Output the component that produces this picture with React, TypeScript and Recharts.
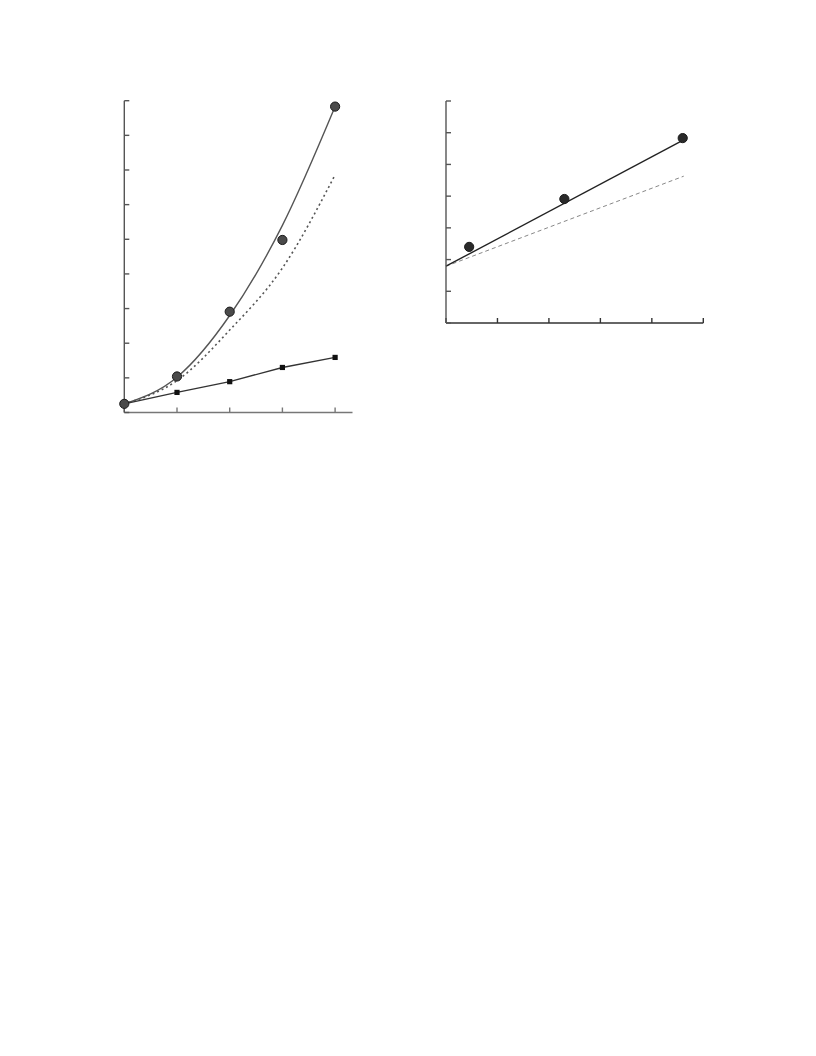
import React from 'react';
import { ComposedChart, Line, Scatter, XAxis, YAxis } from 'recharts';

// left panel
const leftX = [0, 1, 2, 3, 4];
const leftMeasured = [0.25, 1.04, 2.91, 4.98, 8.83];
const leftFit = [0.25, 1.02, 2.8, 5.4, 8.83];
const leftDotted = [0.25, 0.92, 2.38, 4.17, 6.86];
const leftSquares = [0.25, 0.58, 0.89, 1.3, 1.59];
const leftXTicks = [0, 1, 2, 3, 4];
const leftYTicks = [0, 1, 2, 3, 4, 5, 6, 7, 8, 9];

// right panel
const rightPointX = [0.45, 2.3, 4.6];
const rightPointY = [2.4, 3.91, 5.83];
const rightFitX = [0, 4.6];
const rightFitY = [1.79, 5.76];
const rightDashX = [0, 4.62];
const rightDashY = [1.79, 4.63];
const rightXTicks = [0, 1, 2, 3, 4, 5];
const rightYTicks = [0, 1, 2, 3, 4, 5, 6, 7];

const leftData = leftX.map((x, i) => ({
  x,
  measured: leftMeasured[i],
  fit: leftFit[i],
  dotted: leftDotted[i],
  squares: leftSquares[i],
}));

const rightPoints = rightPointX.map((x, i) => ({ x, y: rightPointY[i] }));
const rightFit = rightFitX.map((x, i) => ({ x, y: rightFitY[i] }));
const rightDash = rightDashX.map((x, i) => ({ x, y: rightDashY[i] }));

const SquareDot = (props: any) => {
  const { cx, cy } = props;
  if (cx == null || cy == null) return <g />;
  return <rect x={cx - 2.6} y={cy - 2.6} width={5.2} height={5.2} fill="#111" />;
};

const BallDot = (fill: string) => (props: any) => {
  const { cx, cy } = props;
  if (cx == null || cy == null) return <g />;
  return <circle cx={cx} cy={cy} r={4.6} fill={fill} stroke="#1a1a1a" strokeWidth={1} />;
};

const noTick = () => <g />;

export default function App() {
  return (
    <div style={{ position: 'absolute', left: 0, top: 0, width: 816, height: 1056, background: '#fff' }}>
      <div style={{ position: 'absolute', left: 100, top: 90 }}>
        <ComposedChart
          width={270}
          height={340}
          data={leftData}
          margin={{ top: 10.7, right: 17.5, left: 24.3, bottom: 17.5 }}
        >
          <XAxis
            dataKey="x"
            type="number"
            domain={[0, 4.33]}
            ticks={leftXTicks}
            mirror
            tick={noTick}
            tickSize={5}
            stroke="#777"
            strokeWidth={1.4}
          />
          <YAxis
            type="number"
            domain={[0, 9]}
            ticks={leftYTicks}
            mirror
            tick={noTick}
            tickSize={5}
            stroke="#555"
            strokeWidth={1.4}
          />
          <Line
            dataKey="dotted"
            type="monotone"
            stroke="#555"
            strokeWidth={1.6}
            strokeDasharray="2 3"
            dot={false}
            isAnimationActive={false}
          />
          <Line
            dataKey="fit"
            type="monotone"
            stroke="#555"
            strokeWidth={1.4}
            dot={false}
            isAnimationActive={false}
          />
          <Line
            dataKey="squares"
            type="linear"
            stroke="#333"
            strokeWidth={1.4}
            dot={<SquareDot />}
            isAnimationActive={false}
          />
          <Line
            dataKey="measured"
            stroke="none"
            dot={BallDot('#4a4a4a')}
            isAnimationActive={false}
          />
        </ComposedChart>
      </div>
      <div style={{ position: 'absolute', left: 420, top: 90 }}>
        <ComposedChart width={300} height={250} margin={{ top: 11, right: 16.7, left: 26, bottom: 17 }}>
          <XAxis
            dataKey="x"
            type="number"
            domain={[0, 5]}
            ticks={rightXTicks}
            mirror
            tick={noTick}
            tickSize={5}
            stroke="#333"
            strokeWidth={1.4}
          />
          <YAxis
            type="number"
            domain={[0, 7]}
            ticks={rightYTicks}
            mirror
            tick={noTick}
            tickSize={5}
            stroke="#555"
            strokeWidth={1.4}
          />
          <Line
            data={rightDash}
            dataKey="y"
            type="linear"
            stroke="#888"
            strokeWidth={1}
            strokeDasharray="4 3"
            dot={false}
            isAnimationActive={false}
          />
          <Line
            data={rightFit}
            dataKey="y"
            type="linear"
            stroke="#222"
            strokeWidth={1.4}
            dot={false}
            isAnimationActive={false}
          />
          <Scatter data={rightPoints} dataKey="y" shape={BallDot('#2a2a2a')} isAnimationActive={false} />
        </ComposedChart>
      </div>
    </div>
  );
}
